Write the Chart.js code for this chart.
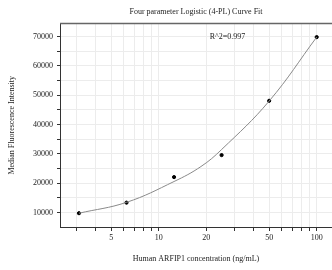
<!DOCTYPE html>
<html>
<head>
<meta charset="utf-8">
<script src="https://cdn.jsdelivr.net/npm/chart.js@4.4.1/dist/chart.umd.min.js"></script>
<style>
  html, body { margin: 0; padding: 0; background: #fff; }
  #wrap { width: 332px; height: 270px; }
</style>
</head>
<body>
<div id="wrap"><canvas id="fitChart" width="332" height="270"></canvas></div>
<script>
// measured standards (ng/mL) and MFI
var conc = [3.125, 6.25, 12.5, 25, 50, 100];
var mfi = [9800, 13400, 22100, 29600, 48100, 69800];

// fitted 4-PL curve
var curveX = [3.125, 6.25, 12.5, 18.5, 25, 50, 100];
var curveY = [9800, 13500, 20600, 25700, 31500, 48000, 69800];

var xTicks = [3, 4, 5, 6, 7, 8, 9, 10, 20, 30, 40, 50, 60, 70, 80, 90, 100];
var xLabels = [5, 10, 20, 50, 100];
var yTicks = [10000, 15000, 20000, 25000, 30000, 35000, 40000, 45000, 50000, 55000, 60000, 65000, 70000];
var rSquared = 'R^2=0.997';

var serif = '"Liberation Serif", "DejaVu Serif", serif';

var curveData = curveX.map(function (v, i) { return { x: v, y: curveY[i] }; });
var pointData = conc.map(function (v, i) { return { x: v, y: mfi[i] }; });

// top border + R^2 label
var extras = {
    id: 'extras',
    afterDraw: function (chart) {
        var ctx = chart.ctx, a = chart.chartArea;
        ctx.save();
        ctx.strokeStyle = '#666';
        ctx.lineWidth = 1.5;
        ctx.beginPath();
        ctx.moveTo(a.left, a.top);
        ctx.lineTo(a.right, a.top);
        ctx.stroke();
        ctx.fillStyle = '#222';
        ctx.font = '8px ' + serif;
        ctx.textBaseline = 'middle';
        ctx.fillText(rSquared, chart.scales.x.getPixelForValue(21), chart.scales.y.getPixelForValue(70000));
        ctx.restore();
    }
};

var ctx = document.getElementById('fitChart').getContext('2d');
var fitChart = new Chart(ctx, {
    type: 'scatter',
    data: {
        datasets: [
            {
                data: curveData,
                showLine: true,
                borderColor: '#8a8a8a',
                borderWidth: 1,
                pointRadius: 0,
                tension: 0.4
            },
            {
                data: pointData,
                backgroundColor: '#000',
                borderColor: '#000',
                pointRadius: 1.6
            }
        ]
    },
    options: {
        responsive: false,
        animation: false,
        layout: { autoPadding: false, padding: 0 },
        plugins: {
            legend: { display: false },
            tooltip: { enabled: false },
            title: {
                display: true,
                fullSize: false,
                text: 'Four parameter Logistic (4-PL) Curve Fit',
                color: '#222',
                font: { family: serif, size: 8, weight: 'normal' },
                padding: { top: 7, bottom: 7 }
            }
        },
        scales: {
            x: {
                type: 'logarithmic',
                min: 2.37,
                max: 125,
                afterBuildTicks: function (s) { s.ticks = xTicks.map(function (v) { return { value: v }; }); },
                afterFit: function (s) { s.height = 43; s.paddingLeft = 0; s.paddingRight = 0; },
                ticks: {
                    autoSkip: false,
                    maxRotation: 0,
                    padding: 2,
                    color: '#222',
                    font: { family: serif, size: 8 },
                    callback: function (v) { return xLabels.indexOf(v) >= 0 ? String(v) : ''; }
                },
                grid: { color: '#ececec', tickColor: '#333', tickLength: 4 },
                border: { color: '#333', width: 1 },
                title: {
                    display: true,
                    text: 'Human ARFIP1 concentration (ng/mL)',
                    color: '#222',
                    font: { family: serif, size: 8 },
                    padding: { top: 4, bottom: 6 }
                }
            },
            y: {
                min: 5100,
                max: 74400,
                afterBuildTicks: function (s) { s.ticks = yTicks.map(function (v) { return { value: v }; }); },
                afterFit: function (s) { s.width = 60; s.paddingTop = 0; s.paddingBottom = 0; },
                ticks: {
                    padding: 4,
                    color: '#222',
                    font: { family: serif, size: 8 },
                    callback: function (v) { return v % 10000 === 0 ? String(v) : ''; }
                },
                grid: { color: '#ececec', tickColor: '#333', tickLength: 3 },
                border: { color: '#333', width: 1 },
                title: {
                    display: true,
                    text: 'Median Fluorescence Intensity',
                    color: '#222',
                    font: { family: serif, size: 8 },
                    padding: { top: 7, bottom: 0 }
                }
            }
        }
    },
    plugins: [extras]
});
</script>
</body>
</html>
